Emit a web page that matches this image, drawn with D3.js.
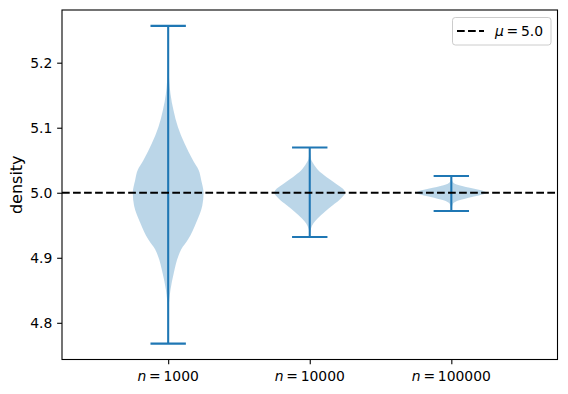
<!DOCTYPE html>
<html><head><meta charset="utf-8">
<script src="https://cdn.jsdelivr.net/npm/d3@7"></script>
<style>body{margin:0;background:#fff} text{font-family:"DejaVu Sans",sans-serif;fill:#000}</style>
</head><body><svg id="c" width="568" height="394"></svg>
<script>
// ---- data ----
const categories = ["1000", "10000", "100000"];
const positions = [1, 2, 3];
const mins = [4.768, 4.932, 4.972];
const maxs = [5.2566, 5.0695, 5.0258];
// relative KDE profile (value, relative density) for each violin
const vals1 = [4.768, 4.82, 4.835, 4.851, 4.877, 4.903, 4.913, 4.928, 4.954, 4.98, 5.0, 5.019, 5.035, 5.05, 5.076, 5.101, 5.127, 5.152, 5.172, 5.19, 5.2566];
const dens1 = [0, 0.01, 0.03, 0.065, 0.16, 0.29, 0.37, 0.56, 0.79, 0.963, 1.0, 0.935, 0.86, 0.70, 0.46, 0.275, 0.15, 0.065, 0.03, 0.01, 0];
const vals2 = [4.932, 4.9449, 4.9526, 4.9603, 4.9705, 4.9808, 4.9913, 5.0, 5.0065, 5.014, 5.0243, 5.0346, 5.0449, 5.0526, 5.0695];
const dens2 = [0, 0.035, 0.10, 0.22, 0.42, 0.65, 0.88, 1.0, 0.93, 0.74, 0.47, 0.24, 0.10, 0.03, 0];
const vals3 = [4.972, 4.9834, 4.9885, 4.9935, 5.0, 5.0065, 5.0115, 5.0166, 5.0258];
const dens3 = [0, 0.05, 0.22, 0.58, 1.0, 0.62, 0.22, 0.04, 0];
const mu = 5.0;
const muLabel = "5.0";
const yTicks = [4.8, 4.9, 5.0, 5.1, 5.2];
const yLabel = "density";

const profiles = [[vals1, dens1], [vals2, dens2], [vals3, dens3]];

// ---- layout ----
const W = 568, H = 394;
const L = 62, R = 557.5, T = 10, B = 359.5;
const C0 = "#1f77b4";
const svg = d3.select("#c");

const x = d3.scaleLinear().domain([0.25, 3.75]).range([L, R]);
const lo = d3.min(mins), hi = d3.max(maxs), pad = (hi - lo) * 0.05;
const y = d3.scaleLinear().domain([lo - pad, hi + pad]).range([B, T]);

const widthHalf = 0.25; // half of violin width 0.5
const capHalf = 0.125;

const g = svg.append("g");

// violin bodies
profiles.forEach(([vals, dens], i) => {
  const pts = vals.map((v, k) => ({v, d: dens[k]}));
  const p = positions[i];
  const area = d3.area()
    .y(d => y(d.v))
    .x0(d => x(p - widthHalf * d.d))
    .x1(d => x(p + widthHalf * d.d))
    .curve(d3.curveMonotoneY);
  g.append("path").attr("d", area(pts))
    .attr("fill", C0).attr("fill-opacity", 0.3).attr("stroke", "none");
});

// bars and caps
positions.forEach((p, i) => {
  g.append("line").attr("x1", x(p)).attr("x2", x(p))
    .attr("y1", y(mins[i])).attr("y2", y(maxs[i]))
    .attr("stroke", C0).attr("stroke-width", 2.08);
  [mins[i], maxs[i]].forEach(v => {
    g.append("line").attr("x1", x(p - capHalf)).attr("x2", x(p + capHalf))
      .attr("y1", y(v)).attr("y2", y(v))
      .attr("stroke", C0).attr("stroke-width", 2.08);
  });
});

// mean line
g.append("line").attr("x1", L).attr("x2", R).attr("y1", y(mu)).attr("y2", y(mu))
  .attr("stroke", "#000").attr("stroke-width", 2.08).attr("stroke-dasharray", "7.7,3.33");

// spines
svg.append("rect").attr("x", L).attr("y", T).attr("width", R - L).attr("height", B - T)
  .attr("fill", "none").attr("stroke", "#000").attr("stroke-width", 1.1);

// y axis
const yAxis = d3.axisLeft(y).tickValues(yTicks).tickFormat(d3.format(".1f")).tickSize(4.86).tickPadding(4.86);
const ya = svg.append("g").attr("transform", `translate(${L},0)`).call(yAxis);
ya.select(".domain").remove();
ya.selectAll("line").attr("stroke", "#000").attr("stroke-width", 1.1);
ya.selectAll("text").attr("font-size", 13.9).attr("font-family", "DejaVu Sans").attr("fill", "#000");

// x axis
const xAxis = d3.axisBottom(x).tickValues(positions).tickFormat("").tickSize(4.86);
const xa = svg.append("g").attr("transform", `translate(0,${B})`).call(xAxis);
xa.select(".domain").remove();
xa.selectAll("line").attr("stroke", "#000").attr("stroke-width", 1.1);
positions.forEach((p, i) => {
  const t = svg.append("text").attr("x", x(p)).attr("y", 381)
    .attr("text-anchor", "middle").attr("font-size", 13.9);
  t.append("tspan").attr("font-style", "italic").text("n");
  t.append("tspan").text("\u2009=\u2009" + categories[i]);
});

// y label
svg.append("text").attr("transform", `translate(22,${(T + B) / 2}) rotate(-90)`)
  .attr("text-anchor", "middle").attr("font-size", 16).text(yLabel);

// legend
const lg = svg.append("g");
lg.append("rect").attr("x", 452.5).attr("y", 17.5).attr("width", 98.5).attr("height", 27.5)
  .attr("rx", 2.8).attr("fill", "#fff").attr("fill-opacity", 0.8).attr("stroke", "#ccc").attr("stroke-width", 1);
lg.append("line").attr("x1", 457).attr("x2", 484).attr("y1", 31).attr("y2", 31)
  .attr("stroke", "#000").attr("stroke-width", 2.08).attr("stroke-dasharray", "7.7,3.33");
const lt = lg.append("text").attr("x", 495).attr("y", 35.5).attr("font-size", 13.9);
lt.append("tspan").attr("font-style", "italic").text("\u03bc");
lt.append("tspan").text("\u2009=\u2009" + muLabel);
</script></body></html>
